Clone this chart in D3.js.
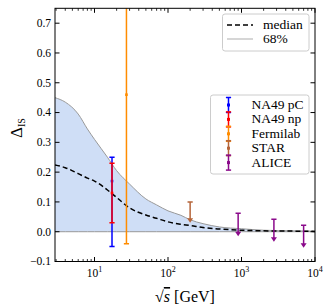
<!DOCTYPE html>
<html><head><meta charset="utf-8">
<script src="https://cdn.jsdelivr.net/npm/d3@7"></script>
<style>body{margin:0;background:#fff}svg{display:block}</style>
</head><body>
<script>
// ---- data ----
const gridS = [2.9, 4, 6, 8, 10, 15, 20, 30, 50, 70, 100, 150, 200, 300, 500, 1000, 2000, 5000, 10000];
const bandUpper = [0.45, 0.435, 0.395, 0.345, 0.31, 0.25, 0.205, 0.16, 0.11, 0.09, 0.07, 0.055, 0.04, 0.027, 0.016, 0.01, 0.005, 0.003, 0.002];
const bandLower = [0, 0, 0, 0, 0, 0, 0, 0, 0, 0, 0, 0, 0, 0, 0, 0, 0, 0, 0];
const medianVals = [0.224, 0.215, 0.195, 0.18, 0.17, 0.14, 0.115, 0.08, 0.056, 0.045, 0.033, 0.025, 0.021, 0.014, 0.009, 0.005, 0.003, 0.002, 0.001];

const expNames = ["NA49 pC", "NA49 np", "Fermilab", "STAR", "ALICE"];
const expColors = ["#0000ff", "#ff0000", "#ff8c00", "#b5653a", "#8b0a8b"];
// measurements with two-sided errors
const measS = [17.3, 17.3, 27.2];
const measVal = [0.17, 0.13, 0.46];
const measLo = [-0.05, 0.03, -0.04];
const measHi = [0.25, 0.23, 0.96];
const measExp = [0, 1, 2];
// upper limits (arrow down)
const limS = [200, 900, 2760, 7000];
const limHi = [0.10, 0.062, 0.042, 0.022];
const limTip = [0.03, -0.015, -0.034, -0.054];
const limExp = [3, 4, 4, 4];

const yTicks = [-0.1, 0.0, 0.1, 0.2, 0.3, 0.4, 0.5, 0.6, 0.7];
const xMajor = [10, 100, 1000, 10000];

// ---- layout ----
const W = 332, H = 306;
const L = 55, R = 315, T = 8.3, B = 261.5;
const FONT = "Liberation Serif";
const x = d3.scaleLog().domain([2.9, 10000]).range([L, R]);
const y = d3.scaleLinear().domain([-0.1, 0.75]).range([B, T]);

const svg = d3.select("body").append("svg").attr("width", W).attr("height", H);
svg.append("defs").append("clipPath").attr("id", "clip")
  .append("rect").attr("x", L).attr("y", T).attr("width", R - L).attr("height", B - T);
const g = svg.append("g").attr("clip-path", "url(#clip)");

// band
const band = gridS.map((s, i) => ({s, lo: bandLower[i], hi: bandUpper[i], m: medianVals[i]}));
g.append("path").datum(band)
  .attr("d", d3.area().x(d => x(d.s)).y0(d => y(d.lo)).y1(d => y(d.hi)).curve(d3.curveMonotoneX))
  .attr("fill", "#cfdef6").attr("stroke", "none");
g.append("path").datum(band)
  .attr("d", d3.line().x(d => x(d.s)).y(d => y(d.hi)).curve(d3.curveMonotoneX))
  .attr("fill", "none").attr("stroke", "#999").attr("stroke-width", 1);
g.append("path").datum(band)
  .attr("d", d3.line().x(d => x(d.s)).y(d => y(d.lo)).curve(d3.curveMonotoneX))
  .attr("fill", "none").attr("stroke", "#999").attr("stroke-width", 1);
g.append("path").datum(band)
  .attr("d", d3.line().x(d => x(d.s)).y(d => y(d.m)).curve(d3.curveMonotoneX))
  .attr("fill", "none").attr("stroke", "#000").attr("stroke-width", 1.5).attr("stroke-dasharray", "5,3");

const capW = 2.6;
// measurements
measS.forEach((s, i) => {
  const c = expColors[measExp[i]], cx = x(s);
  g.append("line").attr("x1", cx).attr("x2", cx).attr("y1", y(measLo[i])).attr("y2", y(measHi[i]))
    .attr("stroke", c).attr("stroke-width", 1.5);
  [measLo[i], measHi[i]].forEach(v => g.append("line").attr("x1", cx - capW).attr("x2", cx + capW)
    .attr("y1", y(v)).attr("y2", y(v)).attr("stroke", c).attr("stroke-width", 1.5));
  g.append("rect").attr("x", cx - 1.3).attr("y", y(measVal[i]) - 1.3).attr("width", 2.6).attr("height", 2.6).attr("fill", c);
});
// limits
limS.forEach((s, i) => {
  const c = expColors[limExp[i]], cx = x(s);
  g.append("line").attr("x1", cx).attr("x2", cx).attr("y1", y(limHi[i])).attr("y2", y(limTip[i]) - 2)
    .attr("stroke", c).attr("stroke-width", 1.5);
  g.append("line").attr("x1", cx - capW).attr("x2", cx + capW).attr("y1", y(limHi[i])).attr("y2", y(limHi[i]))
    .attr("stroke", c).attr("stroke-width", 1.5);
  const ty = y(limTip[i]);
  g.append("path").attr("d", `M${cx - 3},${ty - 4.5}L${cx + 3},${ty - 4.5}L${cx},${ty}Z`).attr("fill", c);
});

// ---- axes frame & ticks ----
const ax = svg.append("g");
ax.append("rect").attr("x", L).attr("y", T).attr("width", R - L).attr("height", B - T)
  .attr("fill", "none").attr("stroke", "#000").attr("stroke-width", 1);
const minor = [];
for (let k = 0; k < 4; k++) for (let m = 2; m <= 9; m++) { const v = m * Math.pow(10, k); if (v > 2.9 && v < 10000) minor.push(v); }
minor.forEach(v => {
  ax.append("line").attr("x1", x(v)).attr("x2", x(v)).attr("y1", B).attr("y2", B - 2.5).attr("stroke", "#000").attr("stroke-width", 0.8);
  ax.append("line").attr("x1", x(v)).attr("x2", x(v)).attr("y1", T).attr("y2", T + 2.5).attr("stroke", "#000").attr("stroke-width", 0.8);
});
xMajor.forEach(v => {
  ax.append("line").attr("x1", x(v)).attr("x2", x(v)).attr("y1", B).attr("y2", B - 4.5).attr("stroke", "#000").attr("stroke-width", 1);
  ax.append("line").attr("x1", x(v)).attr("x2", x(v)).attr("y1", T).attr("y2", T + 4.5).attr("stroke", "#000").attr("stroke-width", 1);
  const t = ax.append("text").attr("x", x(v)).attr("y", B + 15).attr("text-anchor", "middle")
    .attr("font-family", FONT).attr("font-size", 11.5);
  t.append("tspan").text("10");
  t.append("tspan").attr("dy", -4.5).attr("font-size", 8).text(Math.round(Math.log10(v)));
});
yTicks.forEach(v => {
  ax.append("line").attr("x1", L).attr("x2", L + 4.5).attr("y1", y(v)).attr("y2", y(v)).attr("stroke", "#000").attr("stroke-width", 1);
  ax.append("line").attr("x1", R).attr("x2", R - 4.5).attr("y1", y(v)).attr("y2", y(v)).attr("stroke", "#000").attr("stroke-width", 1);
  ax.append("text").attr("x", L - 4).attr("y", y(v) + 3.8).attr("text-anchor", "end")
    .attr("font-family", FONT).attr("font-size", 11.5)
    .text(v < 0 ? "\u2212" + Math.abs(v).toFixed(1) : v.toFixed(1));
});

// axis labels
const xl = svg.append("text").attr("x", 185).attr("y", 302).attr("text-anchor", "middle")
  .attr("font-family", FONT).attr("font-size", 16);
xl.append("tspan").text("\u221A");
xl.append("tspan").attr("font-style", "italic").attr("text-decoration", "overline").text("s");
xl.append("tspan").text(" [GeV]");
const yl = svg.append("text").attr("transform", "translate(22,128) rotate(-90)").attr("text-anchor", "middle")
  .attr("font-family", FONT).attr("font-size", 17);
yl.append("tspan").text("\u0394");
yl.append("tspan").attr("font-size", 10).attr("dy", 3).text("IS");

// ---- legends ----
const lg1 = svg.append("g");
lg1.append("rect").attr("x", 222.5).attr("y", 14).attr("width", 86.5).attr("height", 37).attr("rx", 2.5)
  .attr("fill", "#fff").attr("fill-opacity", 0.8).attr("stroke", "#ccc");
lg1.append("line").attr("x1", 227).attr("x2", 253).attr("y1", 25).attr("y2", 25).attr("stroke", "#000").attr("stroke-width", 1.5).attr("stroke-dasharray", "5,3");
lg1.append("line").attr("x1", 227).attr("x2", 253).attr("y1", 39).attr("y2", 39).attr("stroke", "#bbb").attr("stroke-width", 1.2);
lg1.append("text").attr("x", 263).attr("y", 29).attr("font-family", FONT).attr("font-size", 13.5).text("median");
lg1.append("text").attr("x", 263).attr("y", 43).attr("font-family", FONT).attr("font-size", 13.5).text("68%");

const lg2 = svg.append("g");
lg2.append("rect").attr("x", 210.5).attr("y", 95).attr("width", 98.5).attr("height", 79).attr("rx", 2.5)
  .attr("fill", "#fff").attr("fill-opacity", 0.8).attr("stroke", "#ccc");
expNames.forEach((n, i) => {
  const cy = 105 + i * 14.4, cx = 228.5, c = expColors[i];
  lg2.append("line").attr("x1", cx).attr("x2", cx).attr("y1", cy - 7.5).attr("y2", cy + 7.5).attr("stroke", c).attr("stroke-width", 1.5);
  [cy - 7.5, cy + 7.5].forEach(yy => lg2.append("line").attr("x1", cx - capW).attr("x2", cx + capW).attr("y1", yy).attr("y2", yy).attr("stroke", c).attr("stroke-width", 1.5));
  lg2.append("rect").attr("x", cx - 1.5).attr("y", cy - 1.5).attr("width", 3).attr("height", 3).attr("fill", c);
  lg2.append("text").attr("x", 251.5).attr("y", cy + 4).attr("font-family", FONT).attr("font-size", 13.5).text(n);
});
</script>
</body></html>
